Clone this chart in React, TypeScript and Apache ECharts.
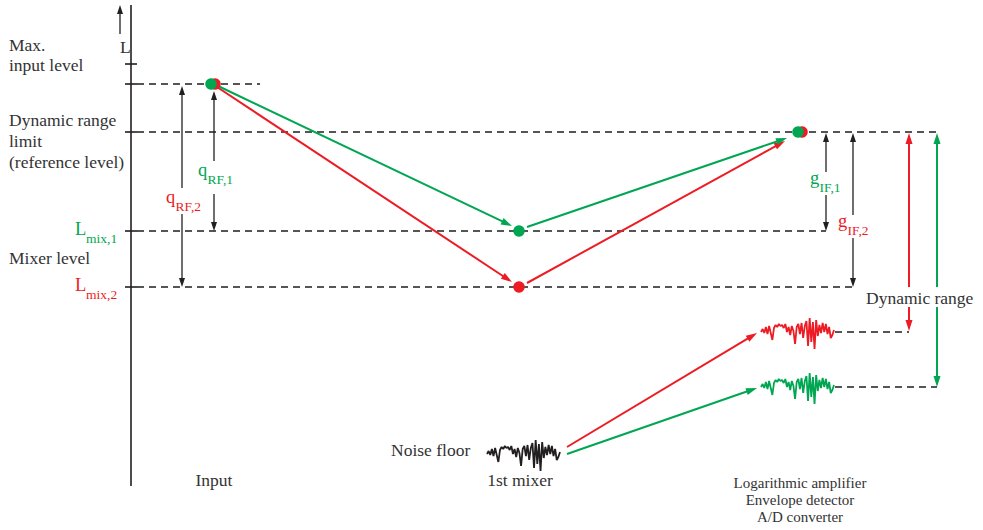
import React, { useEffect, useRef } from "react";
import * as echarts from "echarts";

// Diagram coordinate space: x 0..983, y 0..530 (downwards)
const axisTicks = [64, 84, 132, 231, 287];
const axisLine = [[131, 5, 131, 486]];

// dashed reference lines [x1, y1, x2, y2]
const dashedLines = [
  [137, 84, 260, 84],
  [137, 132, 937, 132],
  [137, 231, 826, 231],
  [137, 287, 853, 287],
  [835, 332, 909, 332],
  [835, 387, 937, 387],
];

// arrows [fromX, fromY, toX, toY] (arrowhead at "to")
const blackArrows = [
  [120, 34, 120, 5],
  [182, 188, 182, 86],
  [182, 214, 182, 287],
  [214, 161, 214, 91],
  [214, 194, 214, 231],
  [826, 172, 826, 133],
  [826, 195, 826, 231],
  [853, 215, 853, 133],
  [853, 238, 853, 287],
];
const greenArrows = [
  [216, 85, 512, 226],
  [527, 227, 787, 138],
  [567, 454, 757, 388],
  [937, 287, 937, 133],
  [937, 307, 937, 387],
];
const redArrows = [
  [217, 87, 512, 282],
  [527, 283, 785, 141],
  [567, 447, 757, 333],
  [909, 287, 909, 133],
  [909, 307, 909, 331],
];

// level dots
const greenDots = [[211, 84], [519, 231], [798, 132]];
const redDots = [[215, 84], [519, 287], [802, 132]];

// noise waveform offsets, repeated at three places
const noiseShape = [2, -1, 3, -3, 4, -4, 3, 10, -2, -5, -3, -6, -4, -5, -2, -6, 2, -3, 5, -4, 1, 14, -3, -6, 4, -7, 8, -4, -9, 16, -12, 12, -8, 19, -10, 6, -5, 3, -7, 2, -6, 4, -3, 8, 5, 0];
const noiseBlackOrigin = [487, 452];
const noiseRedOrigin = [761, 330];
const noiseGreenOrigin = [761, 385];
const noiseWidth = 73;

const GREEN = "#00a651";
const RED = "#ed1c24";
const INK = "#231f20";
const TEXT = "#333333";
const FONT = '"Liberation Serif", "Times New Roman", serif';

function noiseData(origin: number[]) {
  const step = noiseWidth / (noiseShape.length - 1);
  return noiseShape.map((v, i) => [origin[0] + i * step, origin[1] + v]);
}

function arrowRender(headLen: number, headHalf: number, lineWidth: number) {
  return (params: any, api: any) => {
    const p1 = api.coord([api.value(0), api.value(1)]);
    const p2 = api.coord([api.value(2), api.value(3)]);
    const dx = p2[0] - p1[0];
    const dy = p2[1] - p1[1];
    const len = Math.hypot(dx, dy) || 1;
    const ux = dx / len;
    const uy = dy / len;
    const bx = p2[0] - ux * headLen;
    const by = p2[1] - uy * headLen;
    const color = api.visual("color");
    return {
      type: "group",
      children: [
        {
          type: "line",
          shape: { x1: p1[0], y1: p1[1], x2: bx + ux * 1, y2: by + uy * 1 },
          style: { stroke: color, lineWidth },
        },
        {
          type: "polygon",
          shape: {
            points: [
              [p2[0], p2[1]],
              [bx - uy * headHalf, by + ux * headHalf],
              [bx + uy * headHalf, by - ux * headHalf],
            ],
          },
          style: { fill: color },
        },
      ],
    };
  };
}

function lineRender(lineWidth: number, dash: number[] | null) {
  return (params: any, api: any) => {
    const p1 = api.coord([api.value(0), api.value(1)]);
    const p2 = api.coord([api.value(2), api.value(3)]);
    return {
      type: "line",
      shape: { x1: p1[0], y1: p1[1], x2: p2[0], y2: p2[1] },
      style: { stroke: api.visual("color"), lineWidth, lineDash: dash || undefined },
    };
  };
}

function txt(text: string, x: number, y: number, opts: any = {}) {
  return {
    type: "text",
    x,
    y,
    z: 10,
    style: {
      text,
      fill: opts.fill || TEXT,
      font: `${opts.size || 17.5}px ${FONT}`,
      align: opts.align || "left",
      verticalAlign: "middle",
    },
  };
}

function subbed(main: string, sub: string, x: number, y: number, fill: string, subDx: number) {
  return [txt(main, x, y, { fill, size: 18.5 }), txt(sub, x + subDx, y + 9, { fill, size: 13.5 })];
}

export default function App() {
  const ref = useRef<HTMLDivElement>(null);
  useEffect(() => {
    if (!ref.current) return;
    const chart = echarts.init(ref.current, null, { renderer: "svg" });
    const tickSegs = axisTicks.map((y) => [125, y, 137, y]);
    chart.setOption({
      animation: false,
      backgroundColor: "#ffffff",
      grid: { left: 0, right: 0, top: 0, bottom: 0 },
      xAxis: { type: "value", min: 0, max: 983, show: false },
      yAxis: { type: "value", min: 0, max: 530, inverse: true, show: false },
      series: [
        {
          type: "custom",
          name: "dashed",
          renderItem: lineRender(1.3, [7, 5]),
          itemStyle: { color: "#1e1e1e" },
          data: dashedLines,
          z: 1,
        },
        {
          type: "custom",
          name: "axis",
          renderItem: lineRender(1.6, null),
          itemStyle: { color: INK },
          data: axisLine.concat(tickSegs),
          z: 2,
        },
        {
          type: "custom",
          name: "blackArrows",
          renderItem: arrowRender(9, 3, 1.3),
          itemStyle: { color: INK },
          data: blackArrows,
          z: 3,
        },
        {
          type: "custom",
          name: "redArrows",
          renderItem: arrowRender(11, 3.5, 2),
          itemStyle: { color: RED },
          data: redArrows,
          z: 3,
        },
        {
          type: "custom",
          name: "greenArrows",
          renderItem: arrowRender(11, 3.5, 2),
          itemStyle: { color: GREEN },
          data: greenArrows,
          z: 3,
        },
        {
          type: "line",
          name: "noiseBlack",
          data: noiseData(noiseBlackOrigin),
          showSymbol: false,
          lineStyle: { color: INK, width: 1.8 },
          z: 4,
        },
        {
          type: "line",
          name: "noiseRed",
          data: noiseData(noiseRedOrigin),
          showSymbol: false,
          lineStyle: { color: RED, width: 1.8 },
          z: 4,
        },
        {
          type: "line",
          name: "noiseGreen",
          data: noiseData(noiseGreenOrigin),
          showSymbol: false,
          lineStyle: { color: GREEN, width: 1.8 },
          z: 4,
        },
        {
          type: "scatter",
          name: "redDots",
          data: redDots,
          symbolSize: 11.5,
          itemStyle: { color: RED, opacity: 1 },
          z: 5,
        },
        {
          type: "scatter",
          name: "greenDots",
          data: greenDots,
          symbolSize: 11.5,
          itemStyle: { color: GREEN, opacity: 1 },
          z: 6,
        },
      ],
      graphic: [
        txt("L", 120, 47),
        txt("Max.", 9, 45),
        txt("input level", 9, 65),
        txt("Dynamic range", 9, 120),
        txt("limit", 9, 141),
        txt("(reference level)", 9, 162),
        txt("Mixer level", 9, 258),
        ...subbed("L", "mix,1", 75, 229, GREEN, 11),
        ...subbed("L", "mix,2", 75, 285, RED, 11),
        ...subbed("q", "RF,1", 198, 170, GREEN, 9.5),
        ...subbed("q", "RF,2", 166, 197, RED, 9.5),
        ...subbed("g", "IF,1", 810, 178, GREEN, 9.5),
        ...subbed("g", "IF,2", 838, 221, RED, 9.5),
        txt("Dynamic range", 866, 298),
        txt("Noise floor", 391, 450),
        txt("Input", 214, 480, { align: "center" }),
        txt("1st mixer", 520, 480, { align: "center" }),
        txt("Logarithmic amplifier", 800, 483, { align: "center", size: 15 }),
        txt("Envelope detector", 800, 500, { align: "center", size: 15 }),
        txt("A/D converter", 800, 517, { align: "center", size: 15 }),
      ],
    });
    return () => chart.dispose();
  }, []);
  return (
    <div
      ref={ref}
      style={{ position: "fixed", left: 0, top: 0, width: 983, height: 530 }}
    />
  );
}
